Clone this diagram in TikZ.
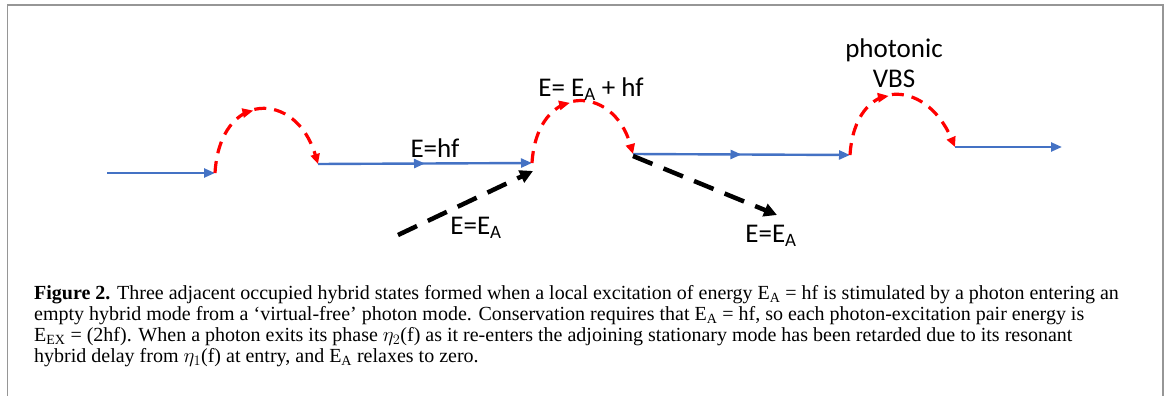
\documentclass[tikz,border=0pt]{standalone}
\usepackage{fontspec}
\setmainfont{Liberation Serif}
\newfontfamily\lblsf{Carlito}
\usetikzlibrary{arrows.meta,decorations.markings}
\definecolor{phblue}{RGB}{68,114,196}
\definecolor{vbsred}{RGB}{255,0,0}
\definecolor{framegrey}{RGB}{150,150,150}
\tikzset{
  modeline/.style={draw=phblue,line width=2.4pt,-{Triangle[length=11pt,width=9pt]}},
  midarrow/.style={postaction={decorate},decoration={markings,
      mark=at position #1 with {\arrow{Triangle[length=11pt,width=9pt]}}}},
  vbsline/.style={draw=vbsred,line width=3.2pt,dash pattern=on 12pt off 8pt,
      -{Triangle[length=10pt,width=9pt]}},
  exline/.style={draw=black,line width=4.5pt,dash pattern=on 21pt off 12pt,
      -{Triangle[length=13pt,width=13pt]}},
  lblfont/.style={font=\lblsf\fontsize{27}{30}\selectfont},
  capfont/.style={font=\fontsize{20}{21}\selectfont},
}

\begin{document}
\begin{tikzpicture}[x=1pt,y=-1pt]
        \useasboundingbox (0,0) rectangle (1170,396);
        \draw[framegrey,line width=1.5pt] (7.5,396) -- (7.5,5) -- (1163,5) -- (1163,396);
        % mode points along the photon path
        \coordinate (m0) at (107,173);
        \coordinate (m1) at (215,173);
        \coordinate (m2) at (318,164);
        \coordinate (m3) at (532,163);
        \coordinate (m4) at (633,154);
        \coordinate (m5) at (850,155);
        \coordinate (m6) at (955,147);
        \coordinate (m7) at (1062,147);
        \coordinate (x0) at (398,235);
        \coordinate (x1) at (533,171);
        \coordinate (x2) at (633,156);
        \coordinate (x3) at (777,215);
        % stationary modes
        \draw[modeline] (m0) -- (m1);
        \draw[modeline,midarrow=0.5] (m2) -- (m3);
        \draw[modeline,midarrow=0.5] (m4) -- (m5);
        \draw[modeline] (m6) -- (m7);
        % virtual bound states
        \draw[vbsline,midarrow=0.46] (m1) .. controls (220,90) and (296,90) .. (m2);
        \draw[vbsline,midarrow=0.46] (m3) .. controls (537,83) and (613,83) .. (m4);
        \draw[vbsline,midarrow=0.46] (m5) .. controls (855,77) and (925,77) .. (m6);
        % local excitation in and out
        \draw[exline] (x0) -- (x1);
        \draw[exline] (x2) -- (x3);
        \node[lblfont] (hf) at (435,148) {E=hf};
        \node[lblfont] (ea1) at (476,228) {E=E\textsubscript{A}};
        \node[lblfont] (eahf) at (591,89) {E= E\textsubscript{A} + hf};
        \node[lblfont] (ea2) at (771,236) {E=E\textsubscript{A}};
        \node[lblfont,align=center] (vbs) at (894,63) {photonic\\VBS};
        \node[capfont,anchor=north west,align=left,inner sep=0pt] (cap) at (34,285)
          {\textbf{Figure 2.} Three adjacent occupied hybrid states formed when a local excitation of energy E\textsubscript{A} = hf is stimulated by a photon entering an\\
           empty hybrid mode from a `virtual-free' photon mode. Conservation requires that E\textsubscript{A} = hf, so each photon-excitation pair energy is\\
           E\textsubscript{EX} = (2hf). When a photon exits its phase $\eta_2$(f) as it re-enters the adjoining stationary mode has been retarded due to its resonant\\
           hybrid delay from $\eta_1$(f) at entry, and E\textsubscript{A} relaxes to zero.};
      \end{tikzpicture}
\end{document}
